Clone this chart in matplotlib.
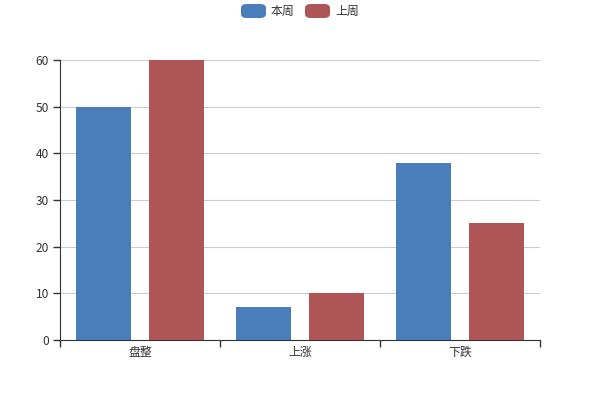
import matplotlib
matplotlib.use("Agg")
import matplotlib.pyplot as plt
import numpy as np
from matplotlib.patches import FancyBboxPatch

plt.rcParams['font.family'] = ['Noto Sans CJK SC', 'DejaVu Sans']

# data
categories = ["盘整", "上涨", "下跌"]
series_names = ["本周", "上周"]
this_week = [50, 7, 38]
last_week = [60, 10, 25]
colors = ["#4a7ebb", "#ae5558"]

fig = plt.figure(figsize=(6, 4), dpi=100)
ax = fig.add_axes([0.1, 0.15, 0.8, 0.7])

x = np.arange(len(categories))
bar_w = 0.344
offset = 0.227
ax.bar(x - offset, this_week, width=bar_w, color=colors[0], zorder=3)
ax.bar(x + offset, last_week, width=bar_w, color=colors[1], zorder=3)

ax.set_xlim(-0.5, len(categories) - 0.5)
ax.set_ylim(0, 60)
ax.set_yticks(range(0, 61, 10))
ax.grid(axis="y", color="#cccccc", linewidth=0.8, zorder=0)

# category labels between boundary ticks
ax.set_xticks(np.arange(-0.5, len(categories)), minor=False)
ax.set_xticklabels([])
ax.set_xticks(x, minor=True)
ax.set_xticklabels(categories, minor=True)
ax.tick_params(axis="x", which="major", length=5, color="#333333", width=1)
ax.tick_params(axis="x", which="minor", length=0, pad=4, labelsize=8.6, labelcolor="#333333")
ax.tick_params(axis="y", length=5, color="#333333", width=1, pad=3, labelsize=8.6, labelcolor="#333333")

for side in ["top", "right"]:
    ax.spines[side].set_visible(False)
ax.spines["left"].set_color("#333333")
ax.spines["bottom"].set_color("#333333")

# legend with rounded icons, centered at top
icon_x = [241, 305]
for name, col, px in zip(series_names, colors, icon_x):
    fig.patches.append(FancyBboxPatch((px / 600, 1 - 18 / 400), 25 / 600, 14 / 400,
                                      boxstyle="round,pad=0,rounding_size=0.01",
                                      transform=fig.transFigure, facecolor=col,
                                      edgecolor="none"))
    fig.text((px + 30) / 600, 1 - 11 / 400, name, fontsize=8.6, color="#333333",
             va="center", ha="left")

fig.savefig("out.png", dpi=100)
